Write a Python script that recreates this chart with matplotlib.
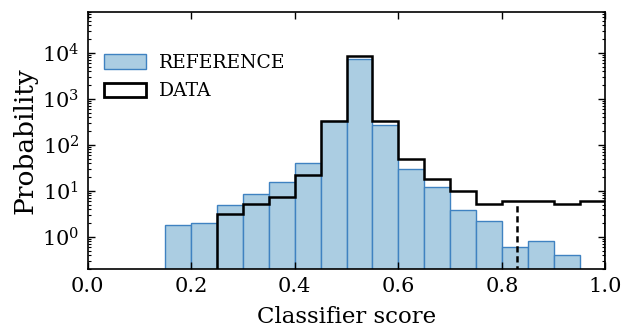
import matplotlib
matplotlib.use("Agg")
import matplotlib.pyplot as plt
from matplotlib.patches import Patch
import numpy as np

plt.rcParams['font.family'] = ['DejaVu Serif']
plt.rcParams['mathtext.fontset'] = 'dejavuserif'

bin_edges = [0.15, 0.20, 0.25, 0.30, 0.35, 0.40, 0.45, 0.50, 0.55, 0.60,
             0.65, 0.70, 0.75, 0.80, 0.85, 0.90, 0.95]
reference_vals = [1.77, 2.0, 4.8, 8.4, 15.9, 41, 333, 7600, 277, 29.5,
                  12.3, 3.8, 2.2, 0.6, 0.79, 0.39]

data_edges = [0.25, 0.30, 0.35, 0.40, 0.45, 0.50, 0.55, 0.60, 0.65, 0.70,
              0.75, 0.80, 0.85, 0.90, 0.95, 1.00]
data_vals = [3.07, 5.1, 7.3, 21.8, 333, 8500, 330, 49, 17.8, 9.8,
             5.2, 6.1, 6.1, 5.2, 6.1]

cut_x = 0.83
cut_top = 4.8

x_ticks = [0.0, 0.2, 0.4, 0.6, 0.8, 1.0]
x_ticklabels = ['0.0', '0.2', '0.4', '0.6', '0.8', '1.0']

fill_col = '#abcde2'
edge_col = '#3f82c1'

fig = plt.figure(figsize=(6.21, 3.31), dpi=100)
ax = fig.add_axes([0.141, 0.188, 0.834, 0.777])

edges = np.array(bin_edges)
ax.bar(edges[:-1], reference_vals, width=np.diff(edges), align='edge',
       color=fill_col, edgecolor=edge_col, linewidth=1.0)
ax.stairs(data_vals, data_edges, baseline=1e-3, fill=False,
          edgecolor='black', linewidth=1.8)
ax.plot([cut_x, cut_x], [1e-3, cut_top], color='black', linestyle='--',
        linewidth=1.8, dashes=(2.5, 1.5))

ax.set_yscale('log')
ax.set_xlim(0.0, 1.0)
ax.set_ylim(0.2, 8e4)
ax.set_xticks(x_ticks)
ax.set_xticklabels(x_ticklabels)
ax.set_yticks([1, 10, 100, 1000, 10000])

ax.tick_params(which='both', direction='in', top=True, right=True, labelsize=15, pad=6)
ax.tick_params(which='major', length=5, width=1)
ax.tick_params(which='minor', length=2.5, width=0.8)
for s in ax.spines.values():
    s.set_linewidth(1.2)

ax.set_xlabel('Classifier score', fontsize=16.5, labelpad=7)
ax.set_ylabel('Probability', fontsize=19, labelpad=3)

handles = [Patch(facecolor=fill_col, edgecolor=edge_col, linewidth=1.0, label='REFERENCE'),
           Patch(facecolor='white', edgecolor='black', linewidth=2.0, label='DATA')]
ax.legend(handles=handles, loc='upper left', frameon=False, fontsize=13.5,
          bbox_to_anchor=(0.0, 0.90), handlelength=2.2, handleheight=0.8,
          handletextpad=0.7, labelspacing=0.55, borderaxespad=0.5)

fig.savefig('out.png', dpi=100)
